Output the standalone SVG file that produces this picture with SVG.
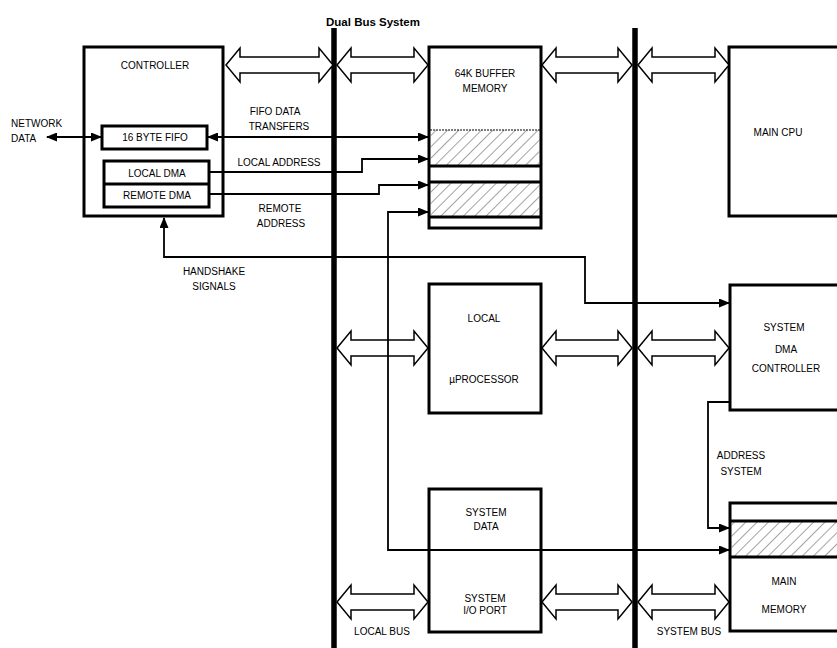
<svg xmlns="http://www.w3.org/2000/svg" width="837" height="648" viewBox="0 0 837 648">
<style>
text{font-family:"Liberation Sans",Arial,sans-serif;font-size:10px;fill:#000;text-anchor:middle}
.title{font-size:11.5px;font-weight:bold}
.l{text-anchor:start}
.box{fill:#fff;stroke:#000;stroke-width:3}
.bus{stroke:#000;stroke-width:5.5}
.blk{fill:#fff;stroke:#000;stroke-width:1.5;stroke-linejoin:miter}
.con{fill:none;stroke:#000;stroke-width:1.8}
.hatch{fill:url(#h);stroke:none}
.thick{stroke:#000;stroke-width:3}
</style>
<defs>
<marker id="ar" markerUnits="userSpaceOnUse" markerWidth="11" markerHeight="9" refX="10" refY="4.5" orient="auto-start-reverse"><path d="M0,0 L11,4.5 L0,9 z" fill="#000"/></marker>
<pattern id="h" patternUnits="userSpaceOnUse" width="8" height="8" patternTransform="rotate(45)"><line x1="0" y1="0" x2="0" y2="8" stroke="#333" stroke-width="0.9"/></pattern>
</defs>
<rect width="837" height="648" fill="#fff"/>
<text class="title" x="373" y="26">Dual Bus System</text>

<g id="buses">
<line class="bus" x1="334" y1="28" x2="334" y2="648"/>
<line class="bus" x1="635" y1="28" x2="635" y2="648"/>
</g>

<g id="controller">
<rect class="box" x="84" y="47" width="139" height="169"/>
<text x="155" y="69">CONTROLLER</text>
<rect class="box" x="102" y="126" width="105" height="23"/>
<text x="155" y="141">16 BYTE FIFO</text>
<rect class="box" x="104" y="161" width="105" height="46"/>
<line class="thick" x1="104" y1="184" x2="209" y2="184"/>
<text x="157" y="177">LOCAL DMA</text>
<text x="157" y="199">REMOTE DMA</text>
</g>

<g id="buffer">
<rect class="box" x="429" y="47" width="112" height="181"/>
<rect class="hatch" x="430.5" y="130" width="109" height="36"/>
<line x1="430" y1="130" x2="540" y2="130" stroke="#000" stroke-width="1" stroke-dasharray="2,1"/>
<line class="thick" x1="429" y1="166" x2="541" y2="166"/>
<rect class="hatch" x="430.5" y="182" width="109" height="35"/>
<line class="thick" x1="429" y1="182" x2="541" y2="182"/>
<line class="thick" x1="429" y1="217" x2="541" y2="217"/>
<text x="485" y="77">64K BUFFER</text>
<text x="485" y="92">MEMORY</text>
</g>

<g id="maincpu">
<rect class="box" x="729" y="47" width="120" height="169"/>
<text x="778" y="136">MAIN CPU</text>
</g>

<g id="localproc">
<rect class="box" x="429" y="284" width="112" height="129"/>
<text x="484" y="322">LOCAL</text>
<text x="484" y="383">µPROCESSOR</text>
</g>

<g id="sysdma">
<rect class="box" x="730" y="285" width="120" height="125"/>
<text x="784" y="331">SYSTEM</text>
<text x="786" y="353">DMA</text>
<text x="786" y="372">CONTROLLER</text>
</g>

<g id="sysio">
<rect class="box" x="429" y="489" width="112" height="143"/>
<text x="486" y="516">SYSTEM</text>
<text x="486" y="530">DATA</text>
<text x="485" y="602">SYSTEM</text>
<text x="485" y="614">I/O PORT</text>
</g>

<g id="mainmem">
<rect class="box" x="730" y="503" width="120" height="128"/>
<rect class="hatch" x="731.5" y="521" width="110" height="36"/>
<line class="thick" x1="730" y1="521" x2="840" y2="521"/>
<line class="thick" x1="730" y1="557" x2="840" y2="557"/>
<text x="784" y="585">MAIN</text>
<text x="784" y="613">MEMORY</text>
</g>

<g id="connectors">
<path class="blk" d="M226,65 L240,48 L240,57 L319,57 L319,48 L333,65 L319,82 L319,73 L240,73 L240,82 Z"/>
<path class="blk" d="M337,65 L351,48 L351,57 L414,57 L414,48 L428,65 L414,82 L414,73 L351,73 L351,82 Z"/>
<path class="blk" d="M542,65 L556,48 L556,57 L618,57 L618,48 L632,65 L618,82 L618,73 L556,73 L556,82 Z"/>
<path class="blk" d="M638,65 L652,48 L652,57 L715,57 L715,48 L729,65 L715,82 L715,73 L652,73 L652,82 Z"/>
<path class="blk" d="M337,348 L351,331 L351,340 L414,340 L414,331 L428,348 L414,365 L414,356 L351,356 L351,365 Z"/>
<path class="blk" d="M542,348 L556,331 L556,340 L618,340 L618,331 L632,348 L618,365 L618,356 L556,356 L556,365 Z"/>
<path class="blk" d="M638,348 L652,331 L652,340 L715,340 L715,331 L729,348 L715,365 L715,356 L652,356 L652,365 Z"/>
<path class="blk" d="M337,602 L351,585 L351,594 L414,594 L414,585 L428,602 L414,619 L414,610 L351,610 L351,619 Z"/>
<path class="blk" d="M542,602 L556,585 L556,594 L618,594 L618,585 L632,602 L618,619 L618,610 L556,610 L556,619 Z"/>
<path class="blk" d="M638,602 L652,585 L652,594 L715,594 L715,585 L729,602 L715,619 L715,610 L652,610 L652,619 Z"/>

<path class="con" d="M47,137 L101,137" marker-start="url(#ar)" marker-end="url(#ar)"/>
<path class="con" d="M208,137 L428,137" marker-start="url(#ar)" marker-end="url(#ar)"/>
<path class="con" d="M209,172 L362,172 L362,159 L428,159" marker-end="url(#ar)"/>
<path class="con" d="M209,194 L379,194 L379,185 L428,185" marker-end="url(#ar)"/>
<path class="con" d="M428,212 L388,212 L388,550 L729,550" marker-start="url(#ar)" marker-end="url(#ar)"/>
<path class="con" d="M164,218 L164,257 L585,257 L585,303 L729,303" marker-start="url(#ar)" marker-end="url(#ar)"/>
<path class="con" d="M730,402 L708,402 L708,528 L729,528" marker-end="url(#ar)"/>
</g>

<g id="labels">
<text class="l" x="11" y="127">NETWORK</text>
<text class="l" x="11" y="142">DATA</text>
<text x="275" y="115">FIFO DATA</text>
<text x="279" y="130">TRANSFERS</text>
<text x="279" y="166">LOCAL ADDRESS</text>
<text x="280" y="212">REMOTE</text>
<text x="281" y="227">ADDRESS</text>
<text x="214" y="275">HANDSHAKE</text>
<text x="214" y="290">SIGNALS</text>
<text x="741" y="459">ADDRESS</text>
<text x="741" y="475">SYSTEM</text>
<text x="382" y="635">LOCAL BUS</text>
<text x="689" y="635">SYSTEM BUS</text>
</g>
</svg>
